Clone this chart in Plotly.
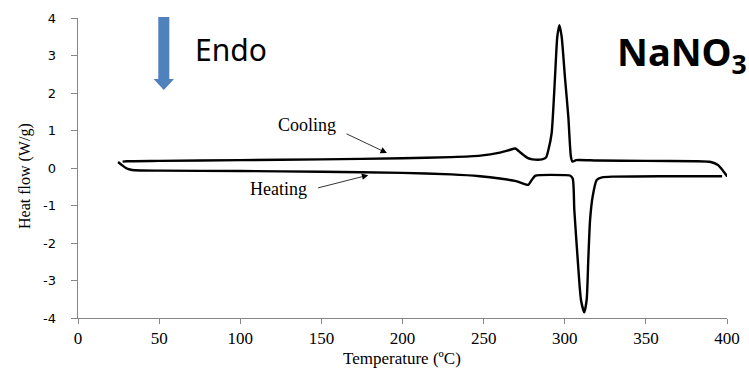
import plotly.graph_objects as go

# Cooling curve (temperature °C, heat flow W/g)
cool_T = [27.5, 30, 50, 100, 150, 200, 230, 248, 260, 266, 269.5, 273, 277, 280, 286, 288.5,
          289.9, 291.9, 294, 295.4, 296.7, 298.1, 300.1, 302.2, 303.8, 304.8, 307,
          320, 350, 380, 390, 394.4, 397.5, 400.2]
cool_H = [0.17, 0.18, 0.19, 0.21, 0.23, 0.26, 0.29, 0.33, 0.41, 0.48, 0.52, 0.40, 0.27, 0.23, 0.23, 0.28,
          0.48, 0.92, 2.43, 3.5, 3.81, 3.5, 2.43, 1.37, 0.3, 0.17, 0.21,
          0.20, 0.19, 0.18, 0.16, 0.08, -0.07, -0.23]

# Heating curve
heat_T = [24.7, 27, 29.5, 32, 35, 50, 100, 150, 200, 230, 247.8, 260, 270, 277.5, 279.5, 281.7,
          285, 300, 303.2, 304.9, 305.9, 308, 310, 312, 313.5, 314.5, 315.6, 317.2, 319.7, 323,
          330, 360, 397]
heat_H = [0.16, 0.08, 0.0, -0.04, -0.06, -0.07, -0.08, -0.10, -0.13, -0.17, -0.22, -0.28, -0.35, -0.45, -0.33, -0.21,
          -0.19, -0.19, -0.20, -0.28, -1.12, -2.45, -3.52, -3.85, -3.52, -2.45, -1.39, -0.76, -0.32, -0.25,
          -0.23, -0.22, -0.22]

x_ticks = [0, 50, 100, 150, 200, 250, 300, 350, 400]
y_ticks = [-4, -3, -2, -1, 0, 1, 2, 3, 4]
y_tick_text = ["-4", "-3", "-2", "-1", "0", "1", "2", "3", "4"]

fig = go.Figure()
for T, H in [(cool_T, cool_H), (heat_T, heat_H)]:
    fig.add_trace(go.Scatter(x=T, y=H, mode="lines",
                             line=dict(color="black", width=2.4, shape="spline", smoothing=0.6),
                             showlegend=False, hoverinfo="skip"))

axis_col = "#868686"
pad = "<span style='color:rgba(0,0,0,0)'>0.</span>"
fig.update_layout(
    width=749, height=368,
    margin=dict(l=78, r=22, t=18, b=50, autoexpand=False),
    paper_bgcolor="white", plot_bgcolor="white",
    xaxis=dict(range=[0, 400], tickvals=x_ticks, showgrid=False, zeroline=False,
               showline=True, linecolor=axis_col, linewidth=1, automargin=False,
               ticks="outside", ticklen=5, tickcolor=axis_col,
               tickfont=dict(family="Liberation Serif", size=17, color="black")),
    yaxis=dict(range=[-4, 4], tickvals=y_ticks, ticktext=[t + pad for t in y_tick_text],
               showgrid=False, zeroline=False,
               showline=True, linecolor=axis_col, linewidth=1, automargin=False,
               ticks="outside", ticklen=6, tickcolor=axis_col,
               tickfont=dict(family="DejaVu Sans", size=13, color="black")),
)

def px2paper(px, py):
    return (px - 78) / 649, (318 - py) / 300

# Axis titles
tx, ty = px2paper(402, 358)
fig.add_annotation(x=tx, y=ty, xref="paper", yref="paper", xanchor="center", yanchor="middle",
                   text="Temperature (ºC)", showarrow=False,
                   font=dict(family="Liberation Serif", size=17, color="black"))
hx, hy = px2paper(25, 176)
fig.add_annotation(x=hx, y=hy, xref="paper", yref="paper", xanchor="center", yanchor="middle",
                   text="Heat flow (W/g)", textangle=-90, showarrow=False,
                   font=dict(family="Liberation Serif", size=16, color="black"))

# Curve labels with arrows
fig.add_annotation(x=141.1, y=1.15, text="Cooling", showarrow=False,
                   font=dict(family="Liberation Serif", size=18, color="black"))
fig.add_annotation(x=123.3, y=-0.56, text="Heating", showarrow=False,
                   font=dict(family="Liberation Serif", size=18, color="black"))
fig.add_annotation(x=190.4, y=0.40, ax=164.6, ay=0.93, axref="x", ayref="y", text="",
                   showarrow=True, arrowhead=2, arrowwidth=0.8, arrowsize=1.6, arrowcolor="black")
fig.add_annotation(x=178.9, y=-0.19, ax=147.1, ay=-0.54, axref="x", ayref="y", text="",
                   showarrow=True, arrowhead=2, arrowwidth=0.8, arrowsize=1.6, arrowcolor="black")

# Endo arrow (blue block arrow) in paper coordinates
pts = [(158.3, 17), (169.3, 17), (169.3, 79), (174, 79), (163.8, 90), (153.6, 79), (158.3, 79)]
path = "M " + " L ".join(f"{px2paper(a, b)[0]:.4f},{px2paper(a, b)[1]:.4f}" for a, b in pts) + " Z"
fig.add_shape(type="path", path=path, xref="paper", yref="paper",
              fillcolor="#4F81BD", line=dict(color="#4F81BD", width=0))

ex, ey = px2paper(231, 49)
fig.add_annotation(x=ex, y=ey, xref="paper", yref="paper", xanchor="center", yanchor="middle",
                   text="Endo", showarrow=False,
                   font=dict(family="Noto Sans", size=30, color="black"))
nx, ny = px2paper(682, 53)
fig.add_annotation(x=nx, y=ny, xref="paper", yref="paper", xanchor="center", yanchor="middle",
                   text="<b>NaNO<sub>3</sub></b>", showarrow=False,
                   font=dict(family="Noto Sans", size=38, color="black"))

fig.write_html("out.html")
